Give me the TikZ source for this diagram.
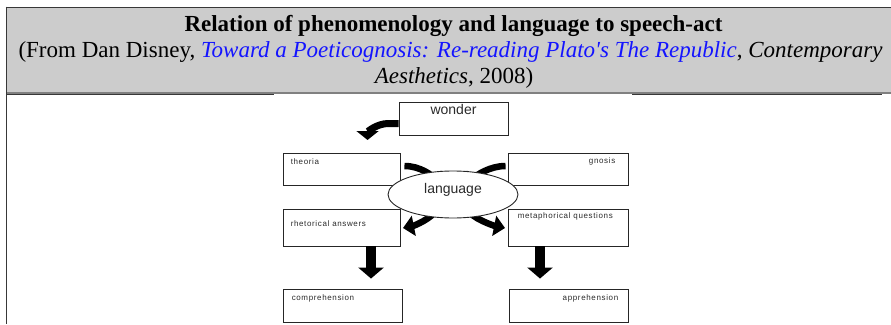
\documentclass[tikz,border=0pt]{standalone}
\usepackage{fontspec}
\setmainfont{Liberation Serif}
\setsansfont{Liberation Sans}
\newfontfamily\rawserif{Liberation Serif}
\newfontfamily\spacedsans{Liberation Sans}[LetterSpace=8]
\usetikzlibrary{arrows.meta,shapes.geometric,backgrounds}
\definecolor{hdrfill}{HTML}{CCCCCC}
\definecolor{hdrline}{HTML}{808080}
\definecolor{frameline}{HTML}{383838}
\definecolor{linkblue}{HTML}{1414FF}
\definecolor{inkgray}{HTML}{2A2A2A}
\tikzset{
  hdrtext/.style={anchor=base, inner sep=0, font=\fontsize{23}{26}\selectfont},
  dbox/.style={draw=black!85, line width=0.9pt, inner sep=0},
  tinytext/.style={inner sep=0, font=\spacedsans\fontsize{8}{9}\selectfont, text=inkgray},
  midtext/.style={inner sep=0, font=\sffamily\fontsize{14}{16}\selectfont, text=inkgray},
  bentarrow/.style={line width=7pt, -{Triangle[width=22pt,length=9pt]}},
  curlarrow/.style={line width=6.5pt, -{Triangle[width=20pt,length=11pt]}},
  downarrow/.style={line width=10pt, -{Triangle[width=25pt,length=11pt]}},
}
\begin{document}
\begin{tikzpicture}[x=1pt,y=-1pt]
\useasboundingbox (0,0) rectangle (891,324);
% table frame and header
\fill[hdrfill] (7,7.5) rectangle (891,92);
\draw[frameline, line width=1.5pt] (5.8,7.3) -- (891,7.3);
\draw[frameline, line width=1.5pt] (6.5,6.5) -- (6.5,324);
\draw[hdrline, line width=1.7pt] (7.2,92.8) -- (891,92.8);
\draw[frameline, line width=1.3pt] (7.2,94.3) -- (274,94.3);
\draw[frameline, line width=1.3pt] (632,94.3) -- (882,94.3);
\node[hdrtext, font=\bfseries\fontsize{23}{26}\selectfont] (title) at (453.5,31.5) {Relation of phenomenology and language to speech-act};
\node[hdrtext] (src1) at (450.5,57.5) {(From Dan Disney, {\color{linkblue}\itshape Toward a Poeticognosis: Re-reading Plato{\rawserif\itshape '}s The Republic}, \textit{Contemporary}};
\node[hdrtext] (src2) at (454,83) {\textit{Aesthetics}, 2008)};
% diagram boxes
\node[dbox, minimum width=109pt, minimum height=33pt] (wonder) at (453.5,118.5) {};
\node[midtext] at ([shift={(0,8)}]wonder.north) {wonder};
\node[dbox, minimum width=117pt, minimum height=32pt] (theoria) at (341.5,169) {};
\node[tinytext, anchor=west] at ([shift={(8,9)}]theoria.north west) {theoria};
\node[dbox, minimum width=120pt, minimum height=32pt] (gnosis) at (568,169) {};
\node[tinytext, anchor=east] at ([shift={(-13,9)}]gnosis.north east) {gnosis};
\node[dbox, minimum width=117pt, minimum height=37pt] (rhet) at (341.5,227.5) {};
\node[tinytext, anchor=west] at ([shift={(8,15)}]rhet.north west) {rhetorical answers};
\node[dbox, minimum width=120pt, minimum height=37pt] (meta) at (568,227.5) {};
\node[tinytext, anchor=west] at ([shift={(10,8)}]meta.north west) {metaphorical questions};
\node[dbox, minimum width=119pt, minimum height=33pt] (comp) at (342.5,306) {};
\node[tinytext, anchor=west] at ([shift={(9,9.5)}]comp.north west) {comprehension};
\node[dbox, minimum width=119pt, minimum height=33pt] (appr) at (568.5,306) {};
\node[tinytext, anchor=east] at ([shift={(-10,9.5)}]appr.north east) {apprehension};
\node[dbox, ellipse, fill=white, minimum width=130pt, minimum height=47pt,
      label={[midtext, yshift=4.5pt]center:language}] (language) at (453,194.5) {};
% connectors
\draw[bentarrow] ([yshift=-5pt]wonder.west) -- ++(-10,0)
   .. controls +(-12,0) and +(0,-8) .. ([shift={(-31,21.5)}]wonder.west);
\begin{scope}[on background layer]
\draw[curlarrow] ([shift={(4,-3)}]theoria.east) .. controls +(16,0) and +(-8,-10) .. ([shift={(-13,-9)}]language.center);
\draw[curlarrow] ([shift={(-2,-3)}]gnosis.west) .. controls +(-16,0) and +(8,-10) .. ([shift={(15,-9)}]language.center);
\draw[curlarrow] ([shift={(-16,14)}]language.center) .. controls +(-4,10) and +(10,-2) .. ([shift={(-50,33.5)}]language.center);
\draw[curlarrow] ([shift={(14,14)}]language.center) .. controls +(4,10) and +(-10,-2) .. ([shift={(52,33.5)}]language.center);
\end{scope}
\draw[downarrow] ([xshift=29.5pt]rhet.south) -- ([shift={(28.5,-10.5)}]comp.north);
\draw[downarrow] ([xshift=-28pt]meta.south) -- ([shift={(-28.5,-10.5)}]appr.north);
\end{tikzpicture}
\end{document}
